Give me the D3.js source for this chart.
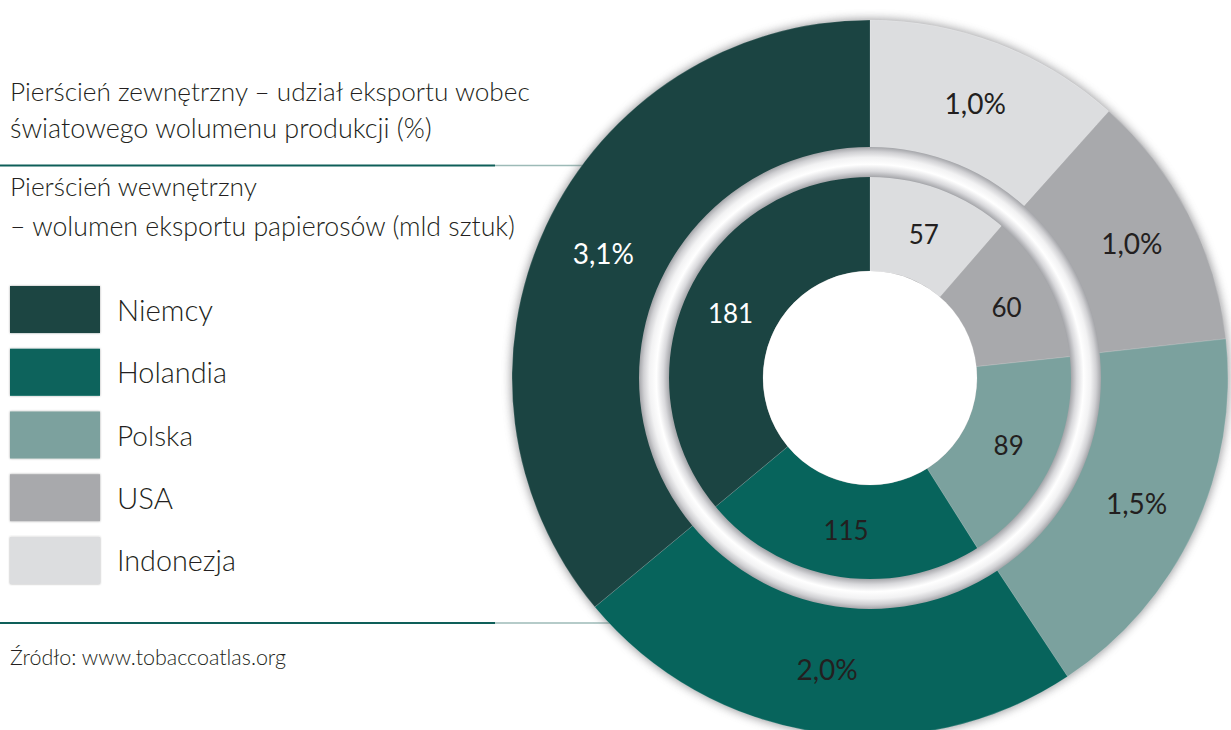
<!DOCTYPE html>
<html><head><meta charset="utf-8">
<script src="https://cdn.jsdelivr.net/npm/d3@7"></script>
<style>html,body{margin:0;padding:0;background:#fff;overflow:hidden}svg{display:block}</style>
</head><body>
<svg id="c" width="1231" height="730"></svg>
<script>
// ---- data ----
const categories = ["Niemcy", "Holandia", "Polska", "USA", "Indonezja"];
const shareValues = [3.1, 2.0, 1.5, 1.0, 1.0];          // outer ring (%)
const shareLabels = ["3,1%", "2,0%", "1,5%", "1,0%", "1,0%"];
const volumeValues = [181, 115, 89, 60, 57];            // inner ring (mld sztuk)
const volumeLabels = ["181", "115", "89", "60", "57"];
const colors = ["#1b4442", "#07645c", "#7ba19e", "#a8a9ac", "#dcdddf"];
const labelColors = ["#ffffff", "#231f20", "#231f20", "#231f20", "#231f20"];
const descLines = [
  "Pierścień zewnętrzny – udział eksportu wobec",
  "światowego wolumenu produkcji (%)",
  "Pierścień wewnętrzny",
  "– wolumen eksportu papierosów (mld sztuk)"
];
const topText = "Wg eksportu i produkcji (%)";
const sourceText = "Źródło: www.tobaccoatlas.org";

// ---- layout ----
const svg = d3.select("#c");
const FONT = "Lato, 'Open Sans', 'DejaVu Sans', sans-serif";
const cx = 870, cy = 378;
const R_OUT = 358, R_OUT_IN = 231, R_GAP_IN = 201, R_IN_IN = 107;

const defs = svg.append("defs");
const sh = defs.append("filter").attr("id", "shadow").attr("x", "-20%").attr("y", "-20%").attr("width", "140%").attr("height", "140%");
sh.append("feGaussianBlur").attr("stdDeviation", 5);
const sh2 = defs.append("filter").attr("id", "sw").attr("x", "-20%").attr("y", "-30%").attr("width", "140%").attr("height", "160%");
sh2.append("feDropShadow").attr("dx", 0).attr("dy", 0).attr("stdDeviation", 1.2).attr("flood-color", "#000").attr("flood-opacity", 0.35);

const grad = defs.append("radialGradient").attr("id", "tube")
  .attr("gradientUnits", "userSpaceOnUse").attr("cx", 0).attr("cy", 0).attr("r", R_OUT_IN);
[[R_GAP_IN / R_OUT_IN, "#a4a5a9"], [0.895, "#d9d9dc"], [0.925, "#ffffff"], [0.955, "#f2f2f3"], [0.98, "#d0d0d3"], [1, "#a4a5a9"]]
  .forEach(([o, c]) => grad.append("stop").attr("offset", o).attr("stop-color", c));

function fitText(t, w) {
  const fs = parseFloat(t.attr("font-size"));
  const cur = t.node().getComputedTextLength();
  if (cur > 0) t.attr("font-size", (fs * w / cur).toFixed(2));
}

// top cropped title (cut off by the top edge, as in the reference)
const tt = svg.append("text").attr("x", 10).attr("y", -6).attr("font-family", FONT).attr("font-weight", 300)
  .attr("font-size", 24).attr("fill", "#231f20").text(topText);
fitText(tt, 280);

// separator lines
const lineYs = [165.5, 623];
lineYs.forEach(y => {
  svg.append("line").attr("x1", 0).attr("x2", 495).attr("y1", y).attr("y2", y).attr("stroke", "#0e5f59").attr("stroke-width", 2.2);
  svg.append("line").attr("x1", 495).attr("x2", 640).attr("y1", y).attr("y2", y).attr("stroke", "#9dbab7").attr("stroke-width", 1.6);
});

// description text
const descPos = [[101, 520], [138, 422], [196, 247], [236, 505]];
descLines.forEach((s, i) => {
  const t = svg.append("text").attr("x", 10).attr("y", descPos[i][0]).attr("font-family", FONT).attr("font-weight", 300)
    .attr("font-size", 24).attr("fill", "#231f20").text(s);
  fitText(t, descPos[i][1]);
});

// legend
const legY = d3.scaleBand().domain(categories).range([286, 584]).paddingInner(0.25).paddingOuter(0);
const leg = svg.append("g");
const legWidths = [96, 110, 76, 56, 119];
categories.forEach((c, i) => {
  leg.append("rect").attr("x", 10).attr("y", legY(c)).attr("width", 90).attr("height", legY.bandwidth())
    .attr("fill", colors[i]).attr("filter", "url(#sw)");
  const t = leg.append("text").attr("x", 117).attr("y", legY(c) + legY.bandwidth() / 2)
    .attr("dominant-baseline", "central").attr("font-family", FONT).attr("font-weight", 300)
    .attr("font-size", 30).attr("fill", "#231f20").text(c);
  fitText(t, legWidths[i]);
});

// source
const st = svg.append("text").attr("x", 10).attr("y", 665).attr("font-family", FONT).attr("font-weight", 300)
  .attr("font-size", 19).attr("fill", "#231f20").text(sourceText);
fitText(st, 276);

// ---- donut ----
const g = svg.append("g").attr("transform", `translate(${cx},${cy})`);
g.append("circle").attr("r", R_OUT + 1).attr("fill", "#6f7073").attr("opacity", 0.7).attr("filter", "url(#shadow)");

// clockwise from top: Indonezja, USA, Polska, Holandia, Niemcy
const order = d3.range(categories.length).reverse();
const pie = d3.pie().sort(null).value(i => i.v);
const outerData = pie(order.map(i => ({ i, v: shareValues[i] })));
const innerData = pie(order.map(i => ({ i, v: volumeValues[i] })));

const arcOuter = d3.arc().innerRadius(R_OUT_IN - 2).outerRadius(R_OUT);
const arcInner = d3.arc().innerRadius(R_IN_IN).outerRadius(R_GAP_IN + 2);
const arcOuterLbl = d3.arc().innerRadius(R_OUT_IN).outerRadius(R_OUT);
const arcInnerLbl = d3.arc().innerRadius(R_IN_IN).outerRadius(R_GAP_IN);

g.selectAll("path.o").data(outerData).join("path").attr("class", "o")
  .attr("d", arcOuter).attr("fill", d => colors[d.data.i])
  .attr("stroke", "rgba(255,255,255,0.22)").attr("stroke-width", 0.7);

g.selectAll("path.n").data(innerData).join("path").attr("class", "n")
  .attr("d", arcInner).attr("fill", d => colors[d.data.i])
  .attr("stroke", "rgba(255,255,255,0.22)").attr("stroke-width", 0.7);

// tube ring between rings
g.append("path").attr("d", d3.arc().innerRadius(R_GAP_IN).outerRadius(R_OUT_IN).startAngle(0).endAngle(2 * Math.PI)())
  .attr("fill", "url(#tube)");

// white centre
g.append("circle").attr("r", R_IN_IN).attr("fill", "#ffffff");

// labels
g.selectAll("text.o").data(outerData).join("text").attr("class", "o")
  .attr("transform", d => `translate(${arcOuterLbl.centroid(d)})`)
  .attr("text-anchor", "middle").attr("dominant-baseline", "central")
  .attr("font-family", FONT).attr("font-size", 28).attr("fill", d => labelColors[d.data.i])
  .text(d => shareLabels[d.data.i]);

g.selectAll("text.n").data(innerData).join("text").attr("class", "n")
  .attr("transform", d => `translate(${arcInnerLbl.centroid(d)})`)
  .attr("text-anchor", "middle").attr("dominant-baseline", "central")
  .attr("font-family", FONT).attr("font-size", 26).attr("fill", d => labelColors[d.data.i])
  .text(d => volumeLabels[d.data.i]);
</script>
</body></html>
